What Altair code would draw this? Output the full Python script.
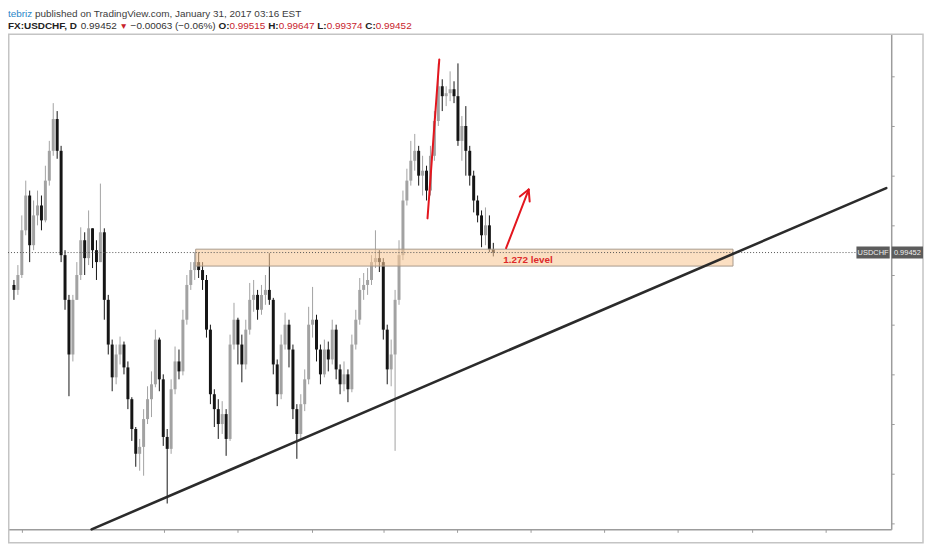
import altair as alt
import pandas as pd

# ---------------- data (USDCHF daily) ----------------
first_open = 0.9880
closes = [0.9870, 0.9900, 0.9990, 1.0060, 0.9960, 1.0020, 1.0040, 1.0010, 1.0090, 1.0150,
          1.0214, 1.0150, 0.9940, 0.9850, 0.9740, 0.9850, 0.9900, 0.9970, 0.9934, 0.9994,
          0.9950, 0.9926, 0.9986, 0.9850, 0.9760, 0.9694, 0.9740, 0.9760, 0.9714, 0.9650,
          0.9590, 0.9540, 0.9554, 0.9610, 0.9650, 0.9680, 0.9770, 0.9690, 0.9574, 0.9550,
          0.9670, 0.9726, 0.9706, 0.9810, 0.9880, 0.9910, 0.9926, 0.9910, 0.9890, 0.9790,
          0.9660, 0.9630, 0.9600, 0.9620, 0.9570, 0.9760, 0.9810, 0.9760, 0.9720, 0.9790,
          0.9850, 0.9860, 0.9830, 0.9860, 0.9870, 0.9850, 0.9720, 0.9660, 0.9760, 0.9800,
          0.9750, 0.9630, 0.9580, 0.9640, 0.9690, 0.9800, 0.9810, 0.9750, 0.9700, 0.9750,
          0.9730, 0.9790, 0.9710, 0.9680, 0.9700, 0.9670, 0.9760, 0.9810, 0.9870, 0.9880,
          0.9890, 0.9926, 0.9934, 0.9926, 0.9790, 0.9710, 0.9740, 0.9850, 0.9940, 1.0050,
          1.0090, 1.0130, 1.0150, 1.0100, 1.0110, 1.0070, 1.0140, 1.0210, 1.0280, 1.0260,
          1.0266, 1.0274, 1.0260, 1.0170, 1.0200, 1.0150, 1.0100, 1.0050, 1.0020, 0.9980,
          1.0000, 0.99515, 0.99452]
highs = [0.9890, 0.9920, 1.0020, 1.0090, 1.0070, 1.0050, 1.0070, 1.0060, 1.0120, 1.0170,
         1.0246, 1.0230, 1.0160, 0.9950, 0.9860, 0.9860, 0.9926, 0.9996, 0.9986, 1.0030,
         0.9994, 0.9970, 1.0084, 0.9994, 0.9860, 0.9770, 0.9760, 0.9776, 0.9766, 0.9726,
         0.9654, 0.9594, 0.9570, 0.9630, 0.9676, 0.9706, 0.9790, 0.9774, 0.9700, 0.9590,
         0.9690, 0.9756, 0.9750, 0.9830, 0.9900, 0.9926, 0.9946, 0.9946, 0.9926, 0.9900,
         0.9800, 0.9670, 0.9650, 0.9646, 0.9630, 0.9780, 0.9844, 0.9814, 0.9780, 0.9810,
         0.9884, 0.9890, 0.9870, 0.9880, 0.9900, 0.9944, 0.9854, 0.9730, 0.9780, 0.9824,
         0.9810, 0.9760, 0.9640, 0.9660, 0.9710, 0.9836, 0.9876, 0.9820, 0.9760, 0.9770,
         0.9766, 0.9810, 0.9800, 0.9720, 0.9726, 0.9710, 0.9780, 0.9830, 0.9894, 0.9904,
         0.9914, 0.9940, 0.9990, 0.9950, 0.9934, 0.9800, 0.9770, 0.9870, 0.9970, 1.0070,
         1.0114, 1.0170, 1.0184, 1.0160, 1.0140, 1.0120, 1.0160, 1.0230, 1.0326, 1.0294,
         1.0280, 1.0310, 1.0290, 1.0326, 1.0220, 1.0240, 1.0160, 1.0110, 1.0060, 1.0030,
         1.0036, 1.0020, 0.99647]
lows = [0.9850, 0.9860, 0.9894, 0.9980, 0.9926, 0.9950, 1.0000, 0.9990, 1.0006, 1.0080,
        1.0140, 1.0134, 0.9926, 0.9830, 0.9656, 0.9726, 0.9850, 0.9890, 0.9900, 0.9920,
        0.9914, 0.9890, 0.9926, 0.9810, 0.9740, 0.9666, 0.9680, 0.9720, 0.9700, 0.9630,
        0.9566, 0.9514, 0.9506, 0.9496, 0.9600, 0.9614, 0.9674, 0.9666, 0.9556, 0.9440,
        0.9540, 0.9660, 0.9690, 0.9698, 0.9800, 0.9870, 0.9890, 0.9894, 0.9870, 0.9774,
        0.9640, 0.9594, 0.9570, 0.9580, 0.9536, 0.9566, 0.9750, 0.9720, 0.9684, 0.9710,
        0.9780, 0.9826, 0.9810, 0.9820, 0.9840, 0.9840, 0.9700, 0.9636, 0.9650, 0.9750,
        0.9714, 0.9610, 0.9530, 0.9570, 0.9626, 0.9680, 0.9774, 0.9726, 0.9680, 0.9694,
        0.9706, 0.9720, 0.9690, 0.9660, 0.9666, 0.9644, 0.9664, 0.9750, 0.9800, 0.9850,
        0.9860, 0.9880, 0.9914, 0.9906, 0.9770, 0.9680, 0.9676, 0.9546, 0.9840, 0.9930,
        1.0040, 1.0080, 1.0110, 1.0080, 1.0060, 1.0050, 1.0060, 1.0130, 1.0200, 1.0230,
        1.0240, 1.0250, 1.0246, 1.0160, 1.0130, 1.0100, 1.0080, 1.0026, 1.0006, 0.9956,
        0.9960, 0.9946, 0.99374]

last_price = 0.99452
x_tick_values = [2, 38.25, 57, 75.75, 94, 112.75, 131.5, 150.25, 169, 187.75, 206.5]
y_tick_values = [0.940, 0.945, 0.950, 0.955, 0.960, 0.965, 0.970, 0.975, 0.980, 0.985,
                 0.990, 0.995, 1.000, 1.005, 1.010, 1.015, 1.020, 1.025, 1.030, 1.035]

# drawn annotations (index units, price units)
zone_x = [46.25, 183]
zone_y = [0.9952, 0.9918]
trend_line = [19.75, 0.9388, 222, 1.0075]
red_line = [105.25, 1.0014, 108.25, 1.0334]
arrow_shaft = [125.25, 0.9954, 131, 1.0072]
arrow_arm1 = [131, 1.0072, 128.75, 1.0058]
arrow_arm2 = [131, 1.0072, 131.25, 1.0048]
level_text = ["1.272 level", 124.5, 0.9930]

# header texts: (text, colour, bold)
header1 = [("tebriz", "#2a86c8", False),
           ("published on TradingView.com, January 31, 2017 03:16 EST", "#3c3c3c", False)]
header2 = [("FX:USDCHF, D", "#222222", True),
           ("0.99452", "#333333", False),
           ("\u25BC", "#c8232c", False),
           ("\u22120.00063 (\u22120.06%)", "#333333", False),
           ("O:", "#222222", True), ("0.99515", "#c8232c", False),
           ("H:", "#222222", True), ("0.99647", "#c8232c", False),
           ("L:", "#222222", True), ("0.99374", "#c8232c", False),
           ("C:", "#222222", True), ("0.99452", "#c8232c", False)]

# ---------------- build ----------------
opens = [first_open] + closes[:-1]
df = pd.DataFrame({"i": list(range(len(closes))), "open": opens, "high": highs,
                   "low": lows, "close": closes})
df["col"] = ["#a2a2a2" if c >= o else "#151515" for o, c in zip(opens, closes)]

W, H = 889, 499
FONT = "Liberation Sans"
AX = "#9c9c9c"
HFS = 10

# approximate advance widths (per 1000 em) of Liberation Sans, for laying out header pieces
REG = {".": 278, " ": 278, ",": 278, ":": 278, "(": 333, ")": 333, "%": 889, "\u2212": 584,
       "c": 500, "s": 500, "v": 500, "y": 500, "z": 500, "k": 500, "x": 500, "i": 222,
       "l": 222, "j": 222, "f": 278, "t": 278, "r": 333, "m": 833, "w": 722, "T": 611,
       "V": 667, "J": 500, "E": 667, "S": 667, "F": 611, "X": 667, "U": 722, "D": 722,
       "C": 722, "H": 722, "O": 778, "L": 556, "\u25BC": 990}
BOLD = dict(REG, **{":": 333, "L": 611})


def text_w(s, bold, fs):
    tbl = BOLD if bold else REG
    return sum(tbl.get(ch, 556) for ch in s) * fs / 1000.0


xs = alt.Scale(domain=[-0.25, 222], nice=False, zero=False)
ys = alt.Scale(domain=[0.9388, 1.0386], nice=False, zero=False)

x_axis = alt.Axis(orient="bottom", labels=False, title="", grid=False, values=x_tick_values,
                  tickSize=3, tickColor=AX, domainColor=AX, domainWidth=1.5, tickWidth=1)
y_axis = alt.Axis(orient="right", labels=False, title="", grid=False, values=y_tick_values,
                  tickSize=3, tickColor=AX, domainColor=AX, domainWidth=1.5, tickWidth=1)

one = pd.DataFrame({"a": [0]})

wicks = alt.Chart(df).mark_rule(strokeWidth=1).encode(
    x=alt.X("i:Q", scale=xs, axis=x_axis),
    y=alt.Y("low:Q", scale=ys, axis=y_axis),
    y2="high:Q",
    color=alt.Color("col:N", scale=None),
)
bodies = alt.Chart(df).mark_bar(size=3).encode(
    x="i:Q", y="open:Q", y2="close:Q", color=alt.Color("col:N", scale=None)
)

zone_df = pd.DataFrame({"x1": [zone_x[0]], "x2": [zone_x[1]], "y1": [zone_y[0]], "y2": [zone_y[1]]})
zone = alt.Chart(zone_df).mark_rect(fill="#f8c896", fillOpacity=0.58, stroke="#a89a8c",
                                    strokeWidth=1).encode(x="x1:Q", x2="x2:Q", y="y1:Q", y2="y2:Q")

price_line = alt.Chart(one).mark_rule(color="#555555", strokeWidth=1, strokeDash=[1, 2]).encode(
    x=alt.value(0), x2=alt.value(854), y=alt.datum(last_price))

lines_df = pd.DataFrame(
    [trend_line + ["#2b2b2b", 2.6], red_line + ["#e3161e", 2.0],
     arrow_shaft + ["#e3161e", 2.0], arrow_arm1 + ["#e3161e", 2.0], arrow_arm2 + ["#e3161e", 2.0]],
    columns=["x1", "y1", "x2", "y2", "c", "w"])
lines = alt.Chart(lines_df).mark_rule(strokeCap="round").encode(
    x="x1:Q", y="y1:Q", x2="x2:Q", y2="y2:Q",
    color=alt.Color("c:N", scale=None), strokeWidth=alt.StrokeWidth("w:Q", scale=None))

lvl_df = pd.DataFrame({"t": [level_text[0]], "x": [level_text[1]], "y": [level_text[2]]})
lvl = alt.Chart(lvl_df).mark_text(align="left", baseline="middle", font=FONT, fontSize=10,
                                  fontWeight="bold", color="#dd2a2a").encode(
    x="x:Q", y="y:Q", text="t:N")

frame = alt.Chart(one).mark_rect(fillOpacity=0, stroke="#c4c4c4", strokeWidth=1.5).encode(
    x=alt.value(0.75), x2=alt.value(921), y=alt.value(0.75), y2=alt.value(512.5))

lab_box1 = alt.Chart(one).mark_rect(color="#5c5c5c").encode(
    x=alt.value(854), x2=alt.value(887.5), y=alt.datum(last_price + 0.0012), y2=alt.datum(last_price - 0.0012))
lab_box2 = alt.Chart(one).mark_rect(color="#5c5c5c").encode(
    x=alt.value(889.5), x2=alt.value(921), y=alt.datum(last_price + 0.0012), y2=alt.datum(last_price - 0.0012))
lab_t1 = alt.Chart(one).mark_text(font=FONT, fontSize=7.5, color="#eeeeee", baseline="middle").encode(
    x=alt.value(870.75), y=alt.datum(last_price), text=alt.value("USDCHF"))
lab_t2 = alt.Chart(one).mark_text(font=FONT, fontSize=7.5, color="#eeeeee", baseline="middle").encode(
    x=alt.value(905.25), y=alt.datum(last_price), text=alt.value("%.5f" % last_price))

layers = [frame, wicks, bodies, zone, price_line, lines, lvl, lab_box1, lab_box2, lab_t1, lab_t2]

# header pieces laid out one after another
for rows, yy in ((header1, -20), (header2, -8)):
    xx = 0.0
    for txt, colr, bold in rows:
        fs = 8.5 if txt == "\u25BC" else HFS
        layers.append(alt.Chart(one).mark_text(
            align="left", baseline="middle", font=FONT, fontSize=fs,
            fontWeight="bold" if bold else "normal", color=colr).encode(
            x=alt.value(round(xx, 1)), y=alt.value(yy), text=alt.value(txt)))
        xx += text_w(txt, bold, fs)
        # "O:", "H:" ... are glued to their value; everything else gets a space after it
        if not (bold and txt.endswith(":")):
            xx += text_w(" ", False, HFS)

chart = alt.layer(*layers).properties(
    width=W, height=H,
    padding={"left": 0, "top": 24, "right": 33, "bottom": 14},
    autosize=alt.AutoSizeParams(type="none"),
    background="white",
).configure_view(strokeWidth=0)

chart.save("out.html", embed_options={"renderer": "svg", "actions": False})
